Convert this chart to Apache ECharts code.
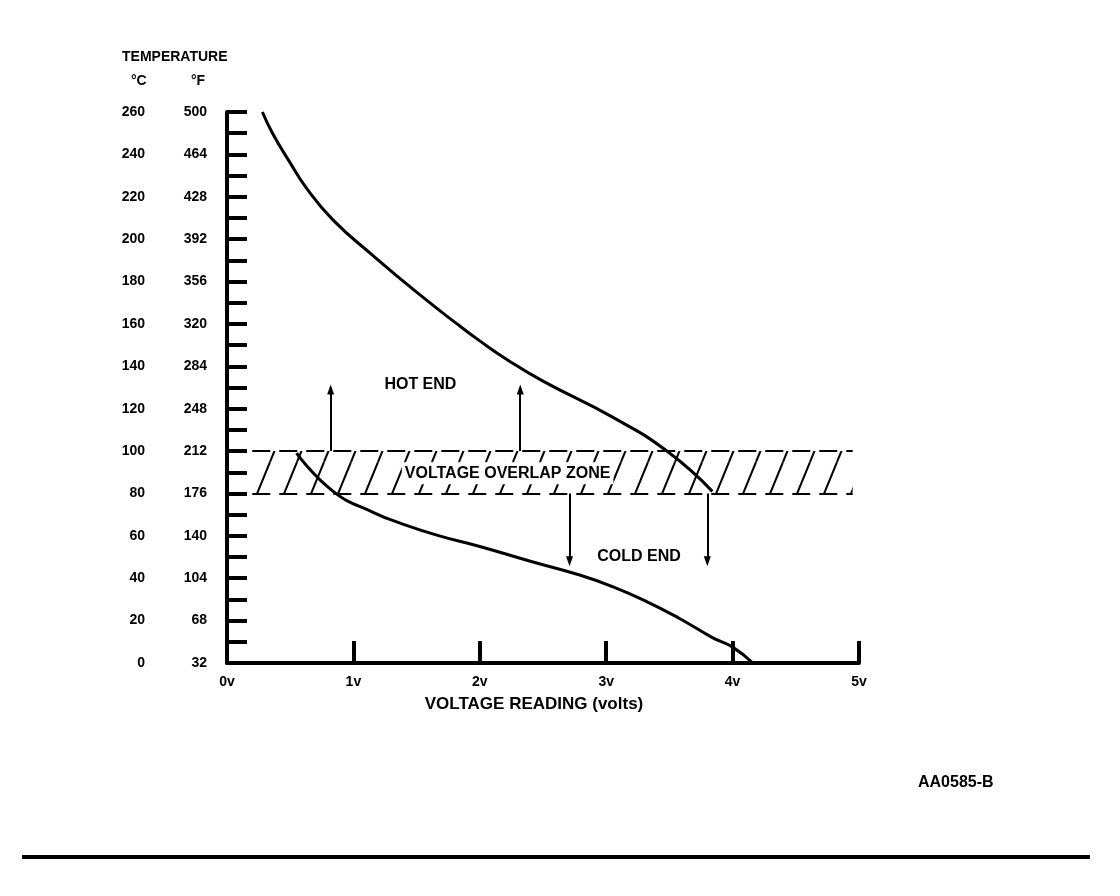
<!DOCTYPE html>
<html>
<head>
    <meta charset="utf-8">
    <title>Temperature vs voltage reading</title>
    <script src="https://cdn.jsdelivr.net/npm/echarts@6/dist/echarts.min.js"></script>
    <style>
        html, body { margin: 0; padding: 0; background: #fff; }
        #main { width: 1120px; height: 896px; }
    </style>
</head>
<body>
<div id="main"></div>
<script>
    // tick labels
    var celsiusLabels = [0, 20, 40, 60, 80, 100, 120, 140, 160, 180, 200, 220, 240, 260];
    var fahrenheitLabels = [32, 68, 104, 140, 176, 212, 248, 284, 320, 356, 392, 428, 464, 500];
    var voltLabels = ['0v', '1v', '2v', '3v', '4v', '5v'];

    // curves [volts, degC]
    var hotEnd = [[0.28, 260], [0.36, 250], [0.50, 236], [0.63, 224], [0.84, 209], [1.16, 192],
        [1.50, 175], [1.82, 160], [2.0, 152], [2.22, 143], [2.5, 133], [3.05, 116], [3.48, 100], [3.84, 81]];
    var coldEnd = [[0.55, 99], [0.84, 81], [1.16, 71], [1.37, 66], [1.68, 60], [2.0, 55], [2.4, 48],
        [2.79, 41.5], [3.05, 36], [3.32, 29], [3.58, 21], [3.84, 12], [4.0, 7.5], [4.16, 0]];

    // overlap zone: volts from/to, degC low/high
    var zoneVolts = [0.2, 4.95];
    var zoneTemps = [80, 100];

    // arrows [volts, from degC, to degC]
    var hotArrows = [[0.82, 100, 129], [2.32, 100, 129]];
    var coldArrows = [[2.71, 80, 48], [3.80, 80, 48]];

    // text notes [volts, degC, text]
    var notes = [[1.53, 131.5, 'HOT END'], [3.26, 50, 'COLD END'], [2.22, 89.5, 'VOLTAGE OVERLAP ZONE']];

    var FONT = '"Liberation Sans", Arial, sans-serif';

    // hatch tile for the overlap zone
    var tile = document.createElement('canvas');
    tile.width = 27;
    tile.height = 66;
    var tc = tile.getContext('2d');
    tc.strokeStyle = '#000';
    tc.lineWidth = 2;
    [-27, 0, 27].forEach(function (dx) {
        tc.beginPath();
        tc.moveTo(dx, 66);
        tc.lineTo(dx + 27, 0);
        tc.stroke();
    });

    function cLabel(v) {
        var i = celsiusLabels.indexOf(v);
        return i >= 0 ? String(celsiusLabels[i]) : '';
    }
    function fLabel(v) {
        var i = celsiusLabels.indexOf(v);
        return i >= 0 ? String(fahrenheitLabels[i]) : '';
    }

    var arrowLines = hotArrows.concat(coldArrows).map(function (a) {
        return [{ coord: [a[0], a[1]] }, { coord: [a[0], a[2]] }];
    });

    var myChart = echarts.init(document.getElementById('main'), null, { renderer: 'canvas' });

    var option = {
        backgroundColor: '#fff',
        animation: false,
        grid: {
            left: 227, top: 112, right: 261, bottom: 233,
            containLabel: false, outerBoundsMode: 'none'
        },
        xAxis: {
            type: 'value',
            min: 0, max: 5, interval: 1,
            splitLine: { show: false },
            axisLine: { lineStyle: { color: '#000', width: 4 } },
            axisTick: { inside: true, length: 22, lineStyle: { color: '#000', width: 4 } },
            axisLabel: {
                margin: 12, color: '#000', fontFamily: FONT, fontWeight: 'bold', fontSize: 14,
                formatter: function (v) { return voltLabels[v]; }
            },
            name: 'VOLTAGE READING (volts)',
            nameLocation: 'middle',
            nameGap: 33,
            nameTextStyle: {
                color: '#000', fontFamily: FONT, fontWeight: 'bold', fontSize: 17,
                padding: [0, 18, 0, 0]
            }
        },
        yAxis: [{
            type: 'value',
            min: 0, max: 260, interval: 10,
            position: 'left', offset: 0,
            splitLine: { show: false },
            axisLine: { show: false },
            axisTick: { show: false },
            axisLabel: {
                margin: 82, color: '#000', fontFamily: FONT, fontWeight: 'bold', fontSize: 14,
                formatter: cLabel
            }
        }, {
            type: 'value',
            min: 0, max: 260, interval: 10,
            position: 'left', offset: 0,
            splitLine: { show: false },
            axisLine: { show: true, lineStyle: { color: '#000', width: 4 } },
            axisTick: { inside: true, length: 20, lineStyle: { color: '#000', width: 4 } },
            axisLabel: {
                margin: 20, color: '#000', fontFamily: FONT, fontWeight: 'bold', fontSize: 14,
                formatter: fLabel
            }
        }],
        graphic: [
            { type: 'text', left: 122, top: 50, style: { text: 'TEMPERATURE', fill: '#000', font: 'bold 14px ' + FONT } },
            { type: 'text', left: 131, top: 74, style: { text: '°C', fill: '#000', font: 'bold 14px ' + FONT } },
            { type: 'text', left: 191, top: 74, style: { text: '°F', fill: '#000', font: 'bold 14px ' + FONT } },
            { type: 'text', left: 918, top: 775, style: { text: 'AA0585-B', fill: '#000', font: 'bold 16px ' + FONT } },
            { type: 'line', shape: { x1: 22, y1: 857, x2: 1090, y2: 857 }, style: { stroke: '#000', lineWidth: 4 } }
        ],
        series: [{
            name: 'zone',
            type: 'line',
            data: [],
            silent: true,
            markArea: {
                silent: true,
                itemStyle: { color: { image: tile, repeat: 'repeat' }, borderWidth: 0 },
                data: [[{ coord: [zoneVolts[0], zoneTemps[1]] }, { coord: [zoneVolts[1], zoneTemps[0]] }]]
            },
            markLine: {
                silent: true,
                symbol: 'none',
                label: { show: false },
                lineStyle: { color: '#000', width: 2, type: [18, 9] },
                data: [
                    [{ coord: [zoneVolts[0], zoneTemps[1]] }, { coord: [zoneVolts[1], zoneTemps[1]] }],
                    [{ coord: [zoneVolts[0], zoneTemps[0]] }, { coord: [zoneVolts[1], zoneTemps[0]] }]
                ]
            }
        }, {
            name: 'HOT END',
            type: 'line',
            data: hotEnd,
            smooth: 0.5,
            showSymbol: false,
            lineStyle: { color: '#000', width: 3 }
        }, {
            name: 'COLD END',
            type: 'line',
            data: coldEnd,
            smooth: 0.5,
            showSymbol: false,
            lineStyle: { color: '#000', width: 3 }
        }, {
            name: 'arrows',
            type: 'line',
            data: [],
            markLine: {
                silent: true,
                symbol: ['none', 'triangle'],
                symbolSize: [7, 10],
                label: { show: false },
                lineStyle: { color: '#000', width: 2, type: 'solid' },
                data: arrowLines
            }
        }, {
            name: 'notes',
            type: 'scatter',
            symbolSize: 1,
            silent: true,
            z: 10,
            itemStyle: { opacity: 0 },
            data: notes.map(function (n) {
                return {
                    value: [n[0], n[1]],
                    name: n[2],
                    label: {
                        show: true,
                        backgroundColor: n[2] === 'VOLTAGE OVERLAP ZONE' ? '#fff' : 'transparent',
                        padding: [3, 3]
                    }
                };
            }),
            label: {
                show: true,
                position: 'inside',
                formatter: '{b}',
                color: '#000',
                opacity: 1,
                fontFamily: FONT,
                fontWeight: 'bold',
                fontSize: 16
            }
        }]
    };
    myChart.setOption(option);
</script>
</body>
</html>
